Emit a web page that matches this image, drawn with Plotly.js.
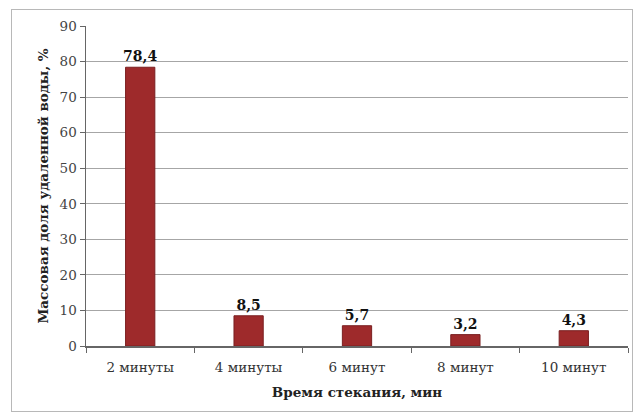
<!DOCTYPE html>
<html><head><meta charset="utf-8">
<script src="https://cdn.plot.ly/plotly-3.0.1.min.js"></script>
<style>body{margin:0;background:#fff}#frame{position:absolute;left:11px;top:9px;width:620px;height:401px;border:1px solid #b8b8b8;pointer-events:none}</style>
</head><body>
<div id="chart" style="width:641px;height:416px"></div>
<div id="frame"></div>
<script>
const categories = ["2 минуты", "4 минуты", "6 минут", "8 минут", "10 минут"];
const values = [78.4, 8.5, 5.7, 3.2, 4.3];
const labels = ["78,4", "8,5", "5,7", "3,2", "4,3"];
const yTicks = [0, 10, 20, 30, 40, 50, 60, 70, 80, 90];

const serif = "DejaVu Serif";
Plotly.newPlot("chart", [{
  type: "bar", x: categories, y: values, text: labels,
  textposition: "outside", cliponaxis: false, constraintext: "none",
  textfont: {family: serif, size: 14, color: "#111", weight: "bold"},
  marker: {color: "#9e2a2b", line: {color: "#7a1f20", width: 1}},
  hoverinfo: "none"
}], {
  width: 641, height: 416,
  margin: {l: 86, r: 13, t: 26, b: 70},
  paper_bgcolor: "#fff", plot_bgcolor: "#fff",
  bargap: 0.73, showlegend: false,
  font: {family: serif, color: "#333"},
  xaxis: {
    tickfont: {family: serif, size: 13.5, color: "#333"},
    showline: true, linecolor: "#666", linewidth: 1.5,
    ticks: "outside", tickson: "boundaries", ticklen: 5, tickcolor: "#666",
    ticklabelstandoff: 8,
    showgrid: false,
    title: {text: "Время стекания, мин", font: {family: serif, size: 13.5, color: "#222", weight: "bold"}, standoff: 14}
  },
  yaxis: {
    range: [0, 90], tickvals: yTicks,
    tickfont: {family: serif, size: 13.5, color: "#444"},
    showline: true, linecolor: "#666", linewidth: 1.5,
    ticks: "outside", ticklen: 5, tickcolor: "#666",
    showgrid: true, gridcolor: "#a6a6a6", gridwidth: 1,
    zeroline: false,
    title: {text: "Массовая доля удаленной воды, %", font: {family: serif, size: 13.5, color: "#222", weight: "bold"}, standoff: 8}
  }
}, {staticPlot: true});
</script>
</body></html>
